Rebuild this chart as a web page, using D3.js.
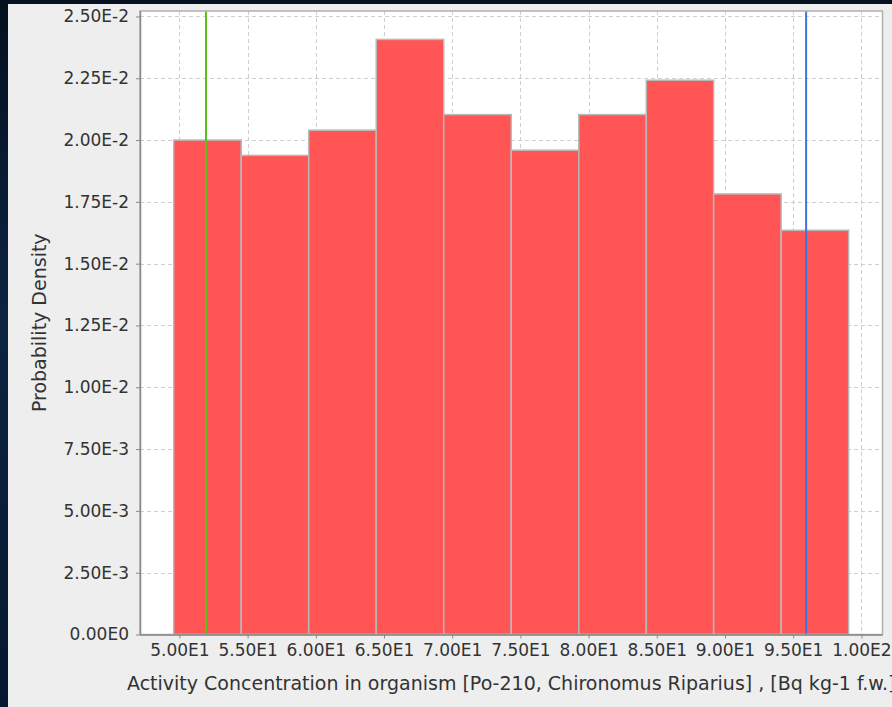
<!DOCTYPE html>
<html>
<head>
<meta charset="utf-8">
<script src="https://cdn.jsdelivr.net/npm/d3@7"></script>
<style>
  html, body { margin: 0; padding: 0; background: #0a1628; }
  svg { display: block; }
  text { font-family: "DejaVu Sans", sans-serif; fill: #333; }
</style>
</head>
<body>
<svg id="chart" width="892" height="707"></svg>
<script>
// Histogram of activity concentration (probability density per bin)
const binEdges = [49.58, 54.53, 59.48, 64.43, 69.38, 74.33, 79.28, 84.23, 89.17, 94.12, 99.07];
const densities = [0.02000, 0.01938, 0.02040, 0.02407, 0.02103, 0.01959, 0.02103, 0.02242, 0.01782, 0.01635];

// Marker lines (lower / upper values)
const lowerMarker = 51.95;
const upperMarker = 95.95;

const xTicks = [50, 55, 60, 65, 70, 75, 80, 85, 90, 95, 100];
const xTickLabels = ["5.00E1", "5.50E1", "6.00E1", "6.50E1", "7.00E1", "7.50E1", "8.00E1", "8.50E1", "9.00E1", "9.50E1", "1.00E2"];
const yTicks = [0, 0.0025, 0.005, 0.0075, 0.01, 0.0125, 0.015, 0.0175, 0.02, 0.0225, 0.025];
const yTickLabels = ["0.00E0", "2.50E-3", "5.00E-3", "7.50E-3", "1.00E-2", "1.25E-2", "1.50E-2", "1.75E-2", "2.00E-2", "2.25E-2", "2.50E-2"];

const xTitle = "Activity Concentration in organism [Po-210, Chironomus Riparius] , [Bq kg-1 f.w.]";
const yTitle = "Probability Density";

const W = 892, H = 707;
const plot = { left: 140, right: 882.5, top: 11, bottom: 634.5 };

const svg = d3.select("#chart");

// Desktop backdrop and panel
const defs = svg.append("defs");
const grad = defs.append("linearGradient").attr("id", "bg").attr("x1", 0).attr("y1", 0).attr("x2", 0).attr("y2", 1);
grad.append("stop").attr("offset", "0%").attr("stop-color", "#04101f");
grad.append("stop").attr("offset", "45%").attr("stop-color", "#0b2442");
grad.append("stop").attr("offset", "100%").attr("stop-color", "#06182f");
svg.append("rect").attr("width", W).attr("height", H).attr("fill", "url(#bg)");
svg.append("rect").attr("x", 8).attr("y", 4).attr("width", W - 8).attr("height", H - 4).attr("fill", "#eeeeee");

const x = d3.scaleLinear().domain([47.11, 101.55]).range([plot.left, plot.right]);
const y = d3.scaleLinear().domain([0, 0.02522]).range([plot.bottom, plot.top]);

// Plot background
svg.append("rect")
  .attr("x", plot.left).attr("y", plot.top)
  .attr("width", plot.right - plot.left).attr("height", plot.bottom - plot.top)
  .attr("fill", "#ffffff");

// Grid lines
const grid = svg.append("g").attr("stroke", "#cfcfcf").attr("stroke-width", 1).attr("stroke-dasharray", "4,3");
grid.selectAll("line.v").data(xTicks).join("line")
  .attr("x1", d => Math.round(x(d)) + 0.5).attr("x2", d => Math.round(x(d)) + 0.5)
  .attr("y1", plot.top).attr("y2", plot.bottom);
grid.selectAll("line.h").data(yTicks).join("line")
  .attr("y1", d => Math.round(y(d)) + 0.5).attr("y2", d => Math.round(y(d)) + 0.5)
  .attr("x1", plot.left).attr("x2", plot.right);

// Bars
const bins = densities.map((v, i) => ({ x0: binEdges[i], x1: binEdges[i + 1], v }));
svg.append("g").selectAll("rect").data(bins).join("rect")
  .attr("x", d => x(d.x0))
  .attr("y", d => y(d.v))
  .attr("width", d => x(d.x1) - x(d.x0))
  .attr("height", d => y(0) - y(d.v))
  .attr("fill", "#ff5555")
  .attr("stroke", "#b9b9b9")
  .attr("stroke-width", 1.5);

// Marker lines
svg.append("line")
  .attr("x1", x(lowerMarker)).attr("x2", x(lowerMarker))
  .attr("y1", plot.top).attr("y2", plot.bottom)
  .attr("stroke", "#5cbf1a").attr("stroke-width", 2);
svg.append("line")
  .attr("x1", x(upperMarker)).attr("x2", x(upperMarker))
  .attr("y1", plot.top).attr("y2", plot.bottom)
  .attr("stroke", "#3c74e0").attr("stroke-width", 2);

// Plot outline
svg.append("rect")
  .attr("x", plot.left).attr("y", plot.top)
  .attr("width", plot.right - plot.left).attr("height", plot.bottom - plot.top)
  .attr("fill", "none").attr("stroke", "#b0b0b0").attr("stroke-width", 1.5);

// Axes
const yAxis = d3.axisLeft(y).tickValues(yTicks).tickFormat((d, i) => yTickLabels[i]).tickSize(4).tickPadding(7);
const gy = svg.append("g").attr("transform", `translate(${plot.left},0)`).call(yAxis);
const xAxis = d3.axisBottom(x).tickValues(xTicks).tickFormat((d, i) => xTickLabels[i]).tickSize(4).tickPadding(5);
const gx = svg.append("g").attr("transform", `translate(0,${plot.bottom})`).call(xAxis);

[gx, gy].forEach(g => {
  g.select(".domain").attr("stroke", "#8a8a8a").attr("stroke-width", 1.5);
  g.selectAll(".tick line").attr("stroke", "#8a8a8a");
  g.selectAll(".tick text")
    .style("font-family", "'DejaVu Sans', sans-serif")
    .style("font-size", "17px")
    .attr("fill", "#333");
});
gx.select(".domain").attr("d", `M${plot.left},0.5H${plot.right}`);
gy.select(".domain").attr("d", `M0.5,${plot.top}V${plot.bottom}`);

// Axis titles
svg.append("text")
  .attr("x", (plot.left + plot.right) / 2)
  .attr("y", 690)
  .attr("text-anchor", "middle")
  .style("font-size", "19px")
  .text(xTitle);

svg.append("text")
  .attr("transform", `translate(46,${(plot.top + plot.bottom) / 2}) rotate(-90)`)
  .attr("text-anchor", "middle")
  .style("font-size", "19px")
  .text(yTitle);
</script>
</body>
</html>
